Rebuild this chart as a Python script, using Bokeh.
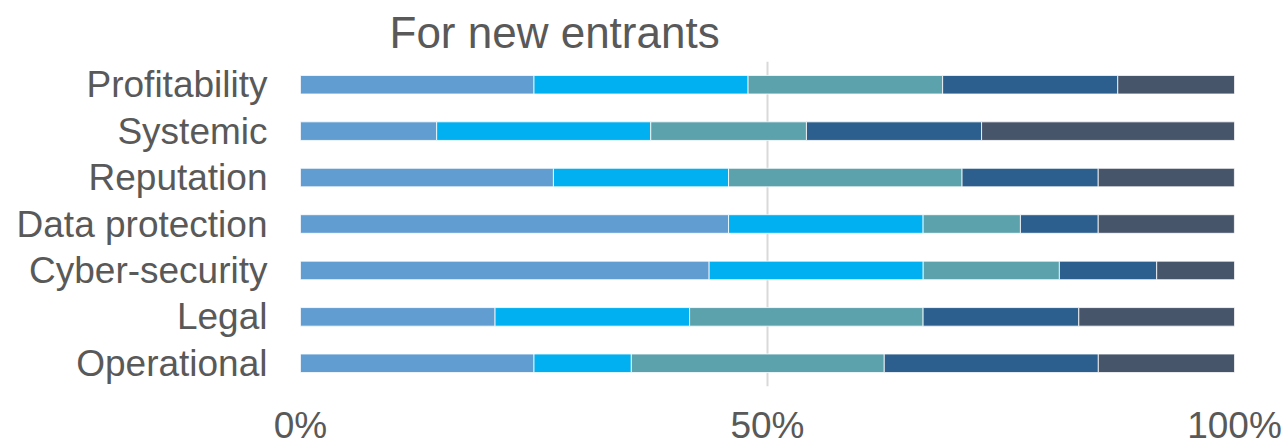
from bokeh.plotting import figure
from bokeh.models import FactorRange, Range1d, FixedTicker
from bokeh.embed import file_html
from bokeh.resources import INLINE

categories = ["Profitability", "Systemic", "Reputation", "Data protection",
              "Cyber-security", "Legal", "Operational"]
series_names = ["s1", "s2", "s3", "s4", "s5"]
s1 = [25.00, 14.58, 27.08, 45.83, 43.75, 20.83, 25.00]
s2 = [22.92, 22.92, 18.75, 20.83, 22.92, 20.83, 10.42]
s3 = [20.83, 16.67, 25.00, 10.42, 14.58, 25.00, 27.08]
s4 = [18.75, 18.75, 14.58, 8.33, 10.42, 16.67, 22.92]
s5 = [12.50, 27.08, 14.58, 14.58, 8.33, 16.67, 14.58]
tick_values = [0, 50, 100]
tick_labels = ["0%", "50%", "100%"]
colors = ["#629DD1", "#00B0F0", "#5BA2AD", "#2C5F8E", "#47556B"]
title_text = "For new entrants"

FONT = "Liberation Sans"
GRAY = "#595959"

data = {"cat": categories, "s1": s1, "s2": s2, "s3": s3, "s4": s4, "s5": s5}

p = figure(width=1288, height=448, output_backend="svg", toolbar_location=None,
           y_range=FactorRange(*list(reversed(categories))),
           x_range=Range1d(0, 100))
p.min_border_left = 300
p.min_border_right = 54
p.min_border_top = 60
p.min_border_bottom = 60

p.hbar_stack(series_names, y="cat", height=0.4, color=colors, source=data,
             line_color="white", line_width=0.8)

p.title.text = title_text
p.title.align = "left"
p.title.offset = 89
p.title.text_font = FONT
p.title.text_font_size = "44px"
p.title.text_font_style = "normal"
p.title.text_color = GRAY

p.outline_line_color = None
p.ygrid.grid_line_color = None
p.xgrid.grid_line_color = "#D9D9D9"
p.xgrid.grid_line_width = 2
p.xaxis.ticker = FixedTicker(ticks=tick_values)
p.xaxis.major_label_overrides = {v: l for v, l in zip(tick_values, tick_labels)}

for ax in (p.xaxis, p.yaxis):
    ax.axis_line_color = None
    ax.major_tick_line_color = None
    ax.minor_tick_line_color = None
    ax.major_tick_out = 0
    ax.major_tick_in = 0
    ax.major_label_text_font = FONT
    ax.major_label_text_font_size = "37px"
    ax.major_label_text_color = GRAY

p.xaxis.major_label_standoff = 18
p.yaxis.major_label_standoff = 33

open("out.html", "w").write(file_html(p, INLINE))
